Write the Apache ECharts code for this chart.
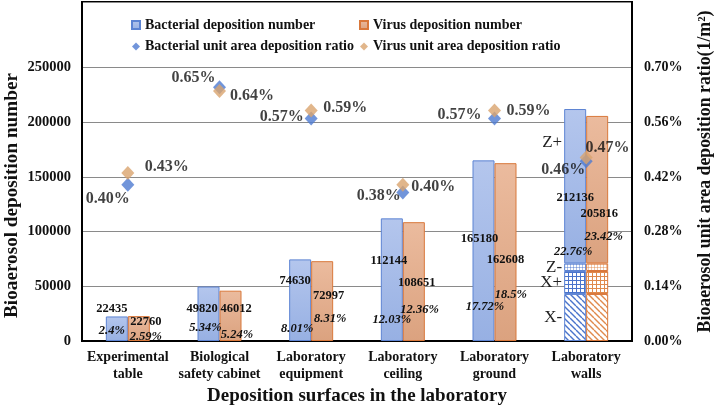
<!DOCTYPE html>
<html><head><meta charset="utf-8">
<script src="https://cdn.jsdelivr.net/npm/echarts@6/dist/echarts.min.js"></script>
<style>html,body{margin:0;padding:0;background:#fff}#c{width:715px;height:415px}</style>
</head><body><div id="c"></div>
<script>
// ---------- data ----------
const categories = ['Experimental\ntable', 'Biological\nsafety cabinet', 'Laboratory\nequipment', 'Laboratory\nceiling', 'Laboratory\nground', 'Laboratory\nwalls'];
const bacterialNumber = [22435, 49820, 74630, 112144, 165180, 212136];
const virusNumber = [22760, 46012, 72997, 108651, 162608, 205816];
const bacterialShare = ['2.4%', '5.34%', '8.01%', '12.03%', '17.72%', '22.76%'];
const virusShare = ['2.59%', '5.24%', '8.31%', '12.36%', '18.5%', '23.42%'];
const bacterialRatio = [0.40, 0.65, 0.57, 0.38, 0.57, 0.46];
const virusRatio = [0.43, 0.64, 0.59, 0.40, 0.59, 0.47];
const wallParts = ['X-', 'X+', 'Z-', 'Z+'];
const bacterialWall = [43000, 21000, 7000];   // X-, X+, Z- (Z+ is the rest)
const virusWall = [43000, 21000, 7000];
const leftTickLabels = ['0', '50000', '100000', '150000', '200000', '250000'];
const rightTickLabels = ['0.00%', '0.14%', '0.28%', '0.42%', '0.56%', '0.70%'];

// ---------- label placement (pixel offsets, style only) ----------
const numOffB = [[-5, -7.5], [-6.5, 22], [-5, 21], [-3, 42], [-4, 78], [0, 89]];
const numOffV = [[7, 5.6], [5.5, 18], [6.5, 35], [3, 61], [0, 96.6], [2, 98]];
const pctOffB = [[-5, -10], [-3, -13.3], [-3, -12], [0, -21.7], [1.5, -34], [-2, -89.3]];
const pctOffV = [[7, -4], [6.5, -6], [8, -22.7], [5.7, -31], [5.3, -46], [6.6, -104.3]];
const ratioOffB = [[-20, 14], [-26, -9], [-29.5, -2], [-24, 3], [-35, -3.7], [-23, 8.4]];
const ratioOffV = [[39, -6], [32.5, 5], [34, -2.6], [30.5, 2], [34, 0], [21.3, -9.4]];
const segOff = [[0, 0], [0, 0], [0, 0], [0, -44]];

const FONT = '"Liberation Serif","Times New Roman",serif';
const wallIndex = categories.length - 1;

function makePattern(kind, color) {
  const cv = document.createElement('canvas');
  const s = kind === 'hatch' ? 6 : (kind === 'grid' ? 4 : 3);
  cv.width = s; cv.height = s;
  const ctx = cv.getContext('2d');
  ctx.fillStyle = '#fff'; ctx.fillRect(0, 0, s, s);
  ctx.strokeStyle = color;
  if (kind === 'hatch') {
    ctx.lineWidth = 1.4;
    for (const k of [-s, 0, s]) { ctx.beginPath(); ctx.moveTo(0, k); ctx.lineTo(s, s + k); ctx.stroke(); }
  } else {
    ctx.lineWidth = 1;
    ctx.globalAlpha = kind === 'fine' ? 0.45 : 1;
    ctx.beginPath(); ctx.moveTo(0, 0.5); ctx.lineTo(s, 0.5); ctx.moveTo(0.5, 0); ctx.lineTo(0.5, s); ctx.stroke();
  }
  return { image: cv, repeat: 'repeat' };
}

const palette = {
  b: { grad: ['#b4c6ed', '#97b0e3'], border: '#5d84d3', line: '#4a74cc' },
  v: { grad: ['#ebbb9e', '#dba27f'], border: '#d9783b', line: '#e08a4c' }
};

function grad(c) {
  return new echarts.graphic.LinearGradient(0, 0, 0, 1, [{ offset: 0, color: c[0] }, { offset: 1, color: c[1] }]);
}

function buildStack(key, name, numbers, shares, wall, numOff, pctOff, withSegLabels) {
  const p = palette[key];
  const stack = key;
  const common = { type: 'bar', stack, barWidth: 22, barGap: '0%', z: 2 };
  const labelFont = { fontFamily: FONT, fontWeight: 'bold', color: '#111' };
  const zeroStyle = { color: 'rgba(0,0,0,0)', borderWidth: 0 };
  const out = [];
  out.push(Object.assign({}, common, {
    name: key + 'Pct', itemStyle: zeroStyle, silent: true,
    label: Object.assign({ show: true, position: 'inside', fontSize: 12.5, fontStyle: 'italic' }, labelFont),
    data: shares.map((s, i) => ({ value: 0, label: { formatter: s, offset: pctOff[i] } }))
  }));
  const pats = [makePattern('hatch', p.line), makePattern('grid', p.line), makePattern('fine', p.line)];
  const segLabel = (i) => withSegLabels ? {
    show: true, position: 'left', distance: 2, formatter: wallParts[i], offset: segOff[i],
    fontFamily: FONT, fontSize: 17, color: '#222', fontWeight: 'normal'
  } : { show: false };
  out.push(Object.assign({}, common, {
    name,
    itemStyle: { color: grad(p.grad), borderColor: p.border, borderWidth: 1 },
    label: { show: false },
    data: numbers.map((v, i) => i === wallIndex
      ? { value: wall[0], itemStyle: { color: pats[0] }, label: segLabel(0) }
      : v)
  }));
  const zPlus = numbers[wallIndex] - wall.reduce((a, b) => a + b, 0);
  const segVals = [wall[1], wall[2], zPlus];
  segVals.forEach((val, k) => {
    out.push(Object.assign({}, common, {
      name: key + 'Seg' + k,
      itemStyle: { color: k < 2 ? pats[k + 1] : grad(p.grad), borderColor: p.border, borderWidth: 1 },
      label: { show: false },
      data: numbers.map((v, i) => i === wallIndex ? { value: val, label: segLabel(k + 1) } : '-')
    }));
  });
  out.push(Object.assign({}, common, {
    name: key + 'Num', itemStyle: zeroStyle, silent: true,
    label: Object.assign({ show: true, position: 'inside', fontSize: 12.5 }, labelFont),
    data: numbers.map((v, i) => ({ value: 0, label: { formatter: String(v), offset: numOff[i] } }))
  }));
  return out;
}

function ratioSeries(name, values, offs, color) {
  return {
    name, type: 'scatter', yAxisIndex: 1, symbol: 'diamond', symbolSize: [13, 14], z: 5,
    itemStyle: { color },
    label: { show: true, position: 'inside', fontFamily: FONT, fontWeight: 'bold', fontSize: 16, color: '#111' },
    data: values.map((v, i) => ({ value: v, label: { formatter: v.toFixed(2) + '%', offset: offs[i] } }))
  };
}

const series = [].concat(
  buildStack('b', 'Bacterial deposition number', bacterialNumber, bacterialShare, bacterialWall, numOffB, pctOffB, true),
  buildStack('v', 'Virus deposition number', virusNumber, virusShare, virusWall, numOffV, pctOffV, false),
  [ratioSeries('Bacterial unit area deposition ratio', bacterialRatio, ratioOffB, '#4d7bd1'),
   ratioSeries('Virus unit area deposition ratio', virusRatio, ratioOffV, '#d9a46e')]
);

const legendText = { fontFamily: FONT, fontWeight: 'bold', fontSize: 14, color: '#111', lineHeight: 16 };
const chart = echarts.init(document.getElementById('c'));
chart.setOption({
  animation: false,
  backgroundColor: '#fff',
  grid: { left: 82, right: 83, top: 2, bottom: 74, containLabel: false, outerBoundsMode: 'none',
    show: true, borderColor: '#000', borderWidth: 2 },
  legend: [
    { orient: 'vertical', left: 126, top: 12, itemWidth: 8, itemHeight: 8, itemGap: 5.5, textStyle: legendText,
      data: [{ name: 'Bacterial deposition number', icon: 'rect' }, { name: 'Bacterial unit area deposition ratio', icon: 'diamond' }] },
    { orient: 'vertical', left: 354, top: 12, itemWidth: 8, itemHeight: 8, itemGap: 5.5, textStyle: legendText,
      data: [{ name: 'Virus deposition number', icon: 'rect' }, { name: 'Virus unit area deposition ratio', icon: 'diamond' }] }
  ],
  graphic: [{ type: 'rect', shape: { x: 83, y: 3, width: 548, height: 64 }, style: { fill: '#fff' }, z: 1, silent: true }],
  xAxis: {
    type: 'category', data: categories,
    axisTick: { show: false },
    axisLine: { show: true, lineStyle: { color: '#000', width: 2 } },
    axisLabel: { interval: 0, margin: 8, fontFamily: FONT, fontWeight: 'bold', fontSize: 14, lineHeight: 17, color: '#111' },
    name: 'Deposition surfaces in the laboratory', nameLocation: 'middle', nameGap: 46, nameMoveOverlap: false,
    nameTextStyle: { fontFamily: FONT, fontWeight: 'bold', fontSize: 19, color: '#111' }
  },
  yAxis: [
    {
      type: 'value', min: 0, max: 310000, interval: 50000,
      axisLine: { show: true, lineStyle: { color: '#000', width: 2 } },
      axisTick: { show: false },
      splitLine: { show: true, lineStyle: { color: '#8a8a8a', width: 1 } },
      axisLabel: { margin: 11, fontFamily: FONT, fontWeight: 'bold', fontSize: 14.5, color: '#111',
        formatter: (v, i) => leftTickLabels[i] !== undefined ? leftTickLabels[i] : '' },
      name: 'Bioaerosol deposition number', nameLocation: 'middle', nameGap: 60, nameMoveOverlap: false,
      nameTextStyle: { fontFamily: FONT, fontWeight: 'bold', fontSize: 19.2, color: '#111', padding: [0, 48, 0, 0] }
    },
    {
      type: 'value', min: 0, max: 0.868, interval: 0.14,
      axisLine: { show: true, lineStyle: { color: '#000', width: 2 } },
      axisTick: { show: false },
      splitLine: { show: false },
      axisLabel: { margin: 12, fontFamily: FONT, fontWeight: 'bold', fontSize: 14, color: '#111',
        formatter: (v, i) => rightTickLabels[i] !== undefined ? rightTickLabels[i] : '' },
      name: 'Bioaerosol unit area deposition ratio(1/m²)', nameLocation: 'middle', nameGap: 64, nameMoveOverlap: false,
      nameTextStyle: { fontFamily: FONT, fontWeight: 'bold', fontSize: 17.8, color: '#111' }
    }
  ],
  series
});
</script>
</body></html>
